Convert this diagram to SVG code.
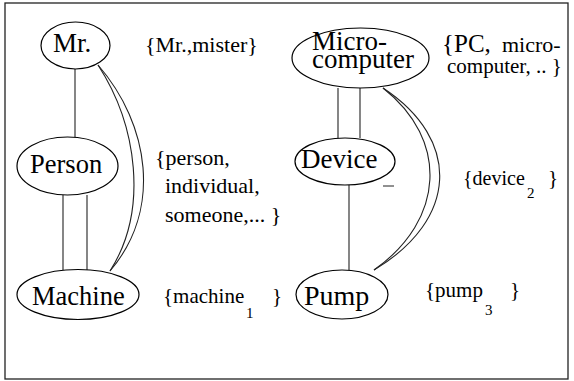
<svg xmlns="http://www.w3.org/2000/svg" width="574" height="381" viewBox="0 0 574 381">
<rect x="5" y="3" width="563" height="376" fill="#fff" stroke="#222" stroke-width="1.3"/>
<g id="connectors" fill="none" stroke="#222" stroke-width="1.1">
<line x1="75" y1="69" x2="75" y2="137"/>
<line x1="63" y1="195" x2="63" y2="270"/>
<line x1="87" y1="195" x2="87" y2="270"/>
<path d="M98,65 C150,125 162,210 110,271"/>
<path d="M98,65 C137,125 149,210 110,271"/>
<line x1="338" y1="88" x2="338" y2="138"/>
<line x1="360" y1="88" x2="360" y2="138"/>
<line x1="349" y1="185" x2="349" y2="270"/>
<path d="M383,88 C462,140 458,220 374,270"/>
<path d="M383,88 C449,140 445,220 374,270"/>
</g>
<g id="node-mr">
<ellipse cx="75.5" cy="45.5" rx="34.5" ry="23.5" fill="#fff" stroke="#000" stroke-width="1.2"/>
<text font-family="Liberation Serif" font-size="27" x="53" y="52">Mr.</text>
</g>
<g id="node-person">
<ellipse cx="67.5" cy="166" rx="50.5" ry="29" fill="#fff" stroke="#000" stroke-width="1.2"/>
<text font-family="Liberation Serif" font-size="26.5" x="30" y="173">Person</text>
</g>
<g id="node-machine">
<ellipse cx="78" cy="294.5" rx="61" ry="25" fill="#fff" stroke="#000" stroke-width="1.2"/>
<text font-family="Liberation Serif" font-size="26.5" x="32" y="305">Machine</text>
</g>
<g id="node-microcomputer">
<ellipse cx="360.5" cy="58" rx="68.5" ry="30" fill="#fff" stroke="#000" stroke-width="1.2"/>
<text font-family="Liberation Serif" font-size="27" x="312" y="50">Micro-</text>
<text font-family="Liberation Serif" font-size="27" x="312" y="68">computer</text>
</g>
<g id="node-device">
<ellipse cx="345" cy="161.5" rx="50" ry="23.5" fill="#fff" stroke="#000" stroke-width="1.2"/>
<text font-family="Liberation Serif" font-size="27" x="301" y="168">Device</text>
<line x1="383" y1="186" x2="394" y2="186" stroke="#222" stroke-width="1"/>
</g>
<g id="node-pump">
<ellipse cx="342" cy="294.5" rx="46" ry="24.5" fill="#fff" stroke="#000" stroke-width="1.2"/>
<text font-family="Liberation Serif" font-size="28" x="304" y="305">Pump</text>
</g>
<g id="labels">
<text font-family="Liberation Serif" font-size="22" x="145" y="52">{Mr.,mister}</text>
<text font-family="Liberation Serif" font-size="22" x="155" y="165">{person,</text>
<text font-family="Liberation Serif" font-size="22" x="165" y="193">individual,</text>
<text font-family="Liberation Serif" font-size="22" x="165" y="222">someone,... }</text>
<text font-family="Liberation Serif" font-size="21" x="163" y="303">{machine</text>
<text font-family="Liberation Serif" font-size="15" x="246" y="318">1</text>
<text font-family="Liberation Serif" font-size="21" x="272" y="303">}</text>
<text font-family="Liberation Serif" font-size="25" x="442" y="52">{PC,</text>
<text font-family="Liberation Serif" font-size="22" x="502" y="52">micro-</text>
<text font-family="Liberation Serif" font-size="21" x="447" y="73">computer, .. }</text>
<text font-family="Liberation Serif" font-size="20" x="463" y="185">{device</text>
<text font-family="Liberation Serif" font-size="15" x="527" y="198">2</text>
<text font-family="Liberation Serif" font-size="21" x="548" y="185">}</text>
<text font-family="Liberation Serif" font-size="21" x="425" y="297">{pump</text>
<text font-family="Liberation Serif" font-size="15" x="485" y="315">3</text>
<text font-family="Liberation Serif" font-size="21" x="510" y="297">}</text>
</g>
</svg>
